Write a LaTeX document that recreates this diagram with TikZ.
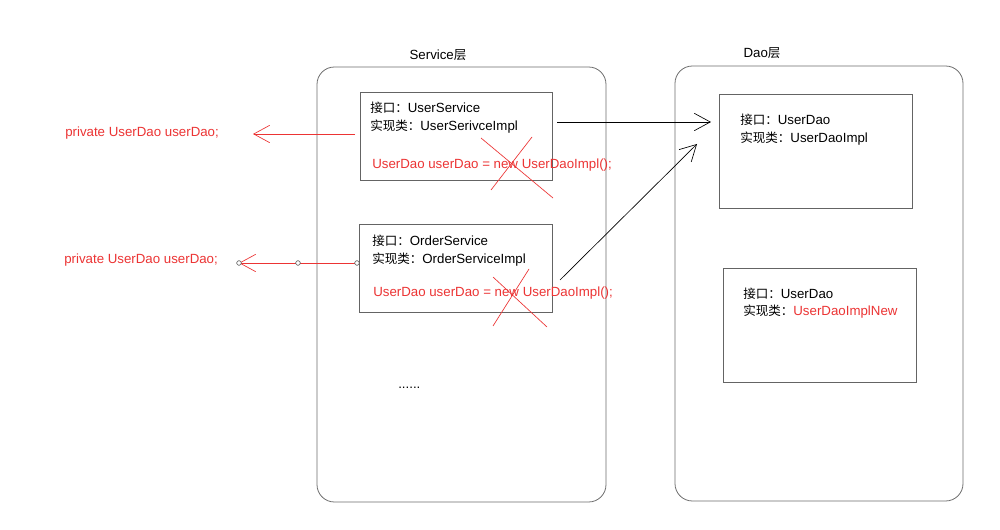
\documentclass[tikz,border=0pt]{standalone}
\usepackage{fontspec}
\setmainfont{Liberation Sans}[Scale=1.06]
\newfontfamily\cjk{Noto Sans CJK SC}
\usetikzlibrary{arrows.meta}
\definecolor{redc}{RGB}{236,52,52}
\definecolor{boxc}{RGB}{100,100,100}
\definecolor{contc}{RGB}{110,110,110}
\begin{document}
\begin{tikzpicture}[x=0.75pt,y=-0.75pt,
  txt/.style={anchor=west,inner sep=0pt,font=\fontsize{9.4pt}{11pt}\selectfont},
  rtxt/.style={txt,text=redc},
  cont/.style={draw=contc,line width=0.6pt,rounded corners=13pt},
  cls/.style={draw=boxc,line width=0.7pt},
  barb/.style={-{Straight Barb[length=12pt,width=13pt,line width=0.5pt]}},
  redarr/.style={barb,draw=redc,line width=0.5pt},
  blkarr/.style={barb,draw=black,line width=0.5pt},
  cross/.style={draw=redc,line width=0.5pt},
  dotm/.style={circle,draw=black!70,fill=white,inner sep=0pt,minimum size=3.5pt,line width=0.4pt}]
\useasboundingbox[fill=white] (0,0) rectangle (1000,530);
% containers
\draw[cont] (317,67) rectangle (606,502);
\draw[cont] (675,66) rectangle (963,501);
\node[txt,anchor=center] (svcT) at (438,55) {Service{\cjk 层}};
\node[txt,anchor=center] (daoT) at (762,53) {Dao{\cjk 层}};
% service boxes
\node[cls,minimum width=192*0.75pt,minimum height=88*0.75pt,inner sep=0pt] (us) at (456,136) {};
\node[txt] (us1) at (370,108) {{\cjk 接口：}UserService};
\node[txt] (us2) at (370,127) {{\cjk 实现类：}UserSerivceImpl};
\node[rtxt] (us3) at (372,165) {UserDao userDao = new UserDaoImpl();};
\node[cls,minimum width=193*0.75pt,minimum height=88*0.75pt,inner sep=0pt] (os) at (455.5,268) {};
\node[txt] (os1) at (372,241) {{\cjk 接口：}OrderService};
\node[txt] (os2) at (372,260) {{\cjk 实现类：}OrderServiceImpl};
\node[rtxt] (os3) at (373,293) {UserDao userDao = new UserDaoImpl();};
\node[txt] (dots) at (398,388) {......};
% dao boxes
\node[cls,minimum width=193*0.75pt,minimum height=114*0.75pt,inner sep=0pt] (ud1) at (815.5,151) {};
\node[txt] (ud1a) at (740,120) {{\cjk 接口：}UserDao};
\node[txt] (ud1b) at (740,139) {{\cjk 实现类：}UserDaoImpl};
\node[cls,minimum width=193*0.75pt,minimum height=114*0.75pt,inner sep=0pt] (ud2) at (819.5,325) {};
\node[txt] (ud2a) at (743,294) {{\cjk 接口：}UserDao};
\node[txt] (ud2b) at (743,312) {{\cjk 实现类：}\textcolor{redc}{UserDaoImplNew}};
% left texts
\node[rtxt] (p1) at (65,133) {private UserDao userDao;};
\node[rtxt] (p2) at (64,260) {private UserDao userDao;};
% crosses
\draw[cross] (481,138) -- (553,198);
\draw[cross] (532,137) -- (491,190);
\draw[cross] (493,277) -- (547,327);
\draw[cross] (529,269) -- (493,326);
% red arrows
\coordinate (r1s) at (355,134);
\coordinate (r1e) at (253,134);
\draw[redarr] (r1s) -- (r1e);
\coordinate (r2s) at (357,263);
\coordinate (r2m) at (298,263);
\coordinate (r2e) at (239,263);
\draw[redarr] (r2s) -- (r2e);
\node[dotm] (d1) at (r2s) {};
\node[dotm] (d2) at (r2m) {};
\node[dotm] (d3) at (r2e) {};
% black arrows
\coordinate (b1s) at (557,122);
\coordinate (b1e) at (711,122);
\draw[blkarr] (b1s) -- (b1e);
\coordinate (b2s) at (560,280);
\coordinate (b2e) at (697,144);
\draw[blkarr] (b2s) -- (b2e);
\end{tikzpicture}
\end{document}
